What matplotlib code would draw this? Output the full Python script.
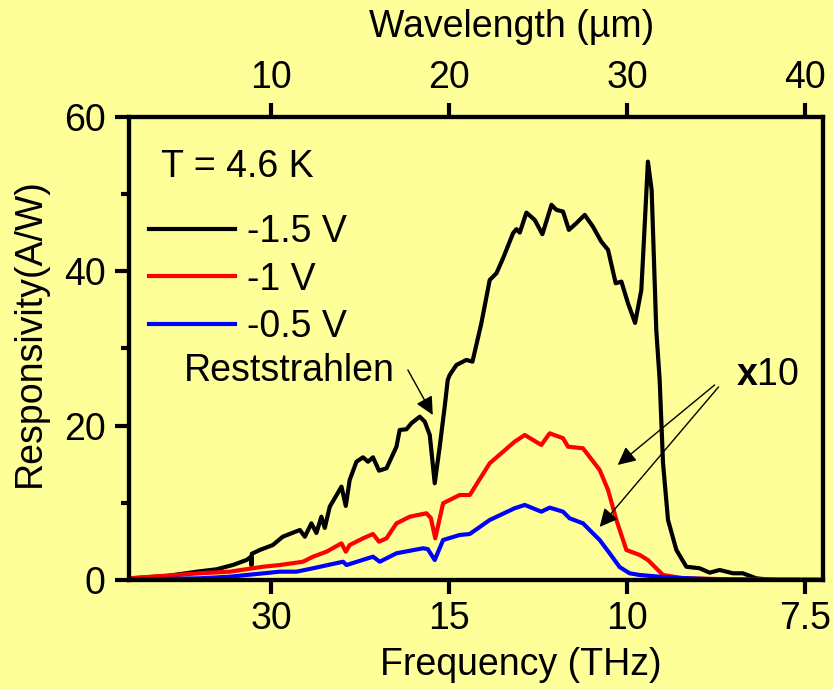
import matplotlib
matplotlib.use("Agg")
import matplotlib.pyplot as plt
from matplotlib.ticker import MultipleLocator

plt.rcParams['font.family'] = ['Liberation Sans', 'DejaVu Sans']
plt.rcParams['mathtext.fontset'] = 'custom'
plt.rcParams['mathtext.rm'] = 'Liberation Sans'
plt.rcParams['mathtext.bf'] = 'Liberation Sans:bold'

# wavelength (um) and responsivity (A/W)
wl_black = [2.0, 4.11, 5.98, 6.92, 7.83, 8.60, 8.86, 8.88, 8.90, 9.35, 10.08, 10.64,
            11.60, 11.88, 12.25, 12.53, 12.81, 13.00, 13.28, 13.94, 14.18, 14.40,
            14.78, 15.15, 15.43, 15.71, 16.05, 16.47, 17.03, 17.21, 17.59, 17.87,
            18.34, 18.62, 18.90, 19.18, 19.46, 19.74, 19.91, 20.02, 20.40, 20.96,
            21.30, 21.80, 22.27, 22.65, 23.02, 23.58, 23.77, 23.96, 24.33, 24.80,
            25.23, 25.74, 26.02, 26.39, 26.72, 27.14, 27.61, 28.07, 28.54, 28.92,
            29.35, 29.67, 30.04, 30.44, 30.79, 30.98, 31.16, 31.37, 31.63, 31.82,
            32.01, 32.29, 32.76, 33.32, 34.07, 34.63, 35.19, 35.94, 36.50, 37.25,
            38.19, 41.0]
r_black = [0.2, 0.52, 1.13, 1.39, 1.94, 2.59, 3.0, 1.9, 3.4, 3.89, 4.53, 5.61,
           6.48, 5.61, 7.34, 6.09, 8.20, 6.74, 9.49, 12.09, 9.59, 12.95,
           15.32, 15.89, 15.32, 15.89, 14.16, 14.47, 17.27, 19.43, 19.52, 20.30,
           21.15, 20.51, 18.78, 12.53, 17.27, 22.45, 25.91, 26.55, 27.85, 28.50,
           28.28, 33.25, 38.86, 39.73, 41.67, 44.91, 45.43, 44.99, 47.58, 46.63,
           44.78, 48.58, 47.93, 47.71, 45.34, 46.21, 47.28, 45.76, 43.82, 42.75,
           38.43, 38.64, 35.84, 33.29, 37.56, 45.98, 54.18, 50.5, 32.38, 25.91,
           15.12, 7.77, 3.89, 1.72, 1.52, 0.95, 1.30, 0.87, 0.87, 0.22,
           0.0, 0.0]

wl_red = [2.0, 5.98, 7.66, 9.53, 10.47, 11.78, 12.34, 13.10, 13.94, 14.18, 14.40,
          15.15, 15.71, 16.05, 16.47, 17.03, 17.78, 18.71, 18.96, 19.21, 19.65,
          20.58, 21.15, 22.27, 23.67, 24.24, 25.17, 25.64, 26.39, 26.67, 27.51,
          28.45, 28.92, 29.39, 29.95, 30.70, 31.16, 32.01, 33.13, 35.92, 41.0]
r_red = [0.22, 0.87, 1.08, 1.72, 1.94, 2.37, 3.02, 3.67, 4.75, 3.67, 4.53,
         5.40, 5.96, 4.96, 5.40, 7.34, 8.20, 8.64, 8.03, 5.40, 9.94,
         11.01, 11.01, 15.12, 17.91, 18.78, 17.49, 19.00, 18.36, 17.27, 17.06,
         14.25, 11.66, 7.77, 3.89, 3.24, 2.59, 0.65, 0.22, 0.09, 0.05]

wl_blue = [2.0, 5.98, 7.66, 10.47, 11.41, 12.34, 14.03, 14.22, 15.71, 16.09, 17.03,
           18.52, 18.79, 19.18, 19.65, 20.58, 21.15, 22.27, 23.67, 24.24, 25.17,
           25.64, 26.39, 26.76, 27.51, 28.45, 29.01, 29.57, 30.13, 30.70, 32.20,
           35.19, 41.0]
r_blue = [0.05, 0.22, 0.43, 1.08, 1.08, 1.52, 2.37, 1.94, 3.02, 2.37, 3.46,
          4.11, 4.0, 2.59, 5.18, 5.83, 5.96, 7.77, 9.29, 9.72, 8.85,
          9.37, 8.85, 7.99, 7.34, 5.18, 3.46, 1.68, 0.87, 0.65, 0.35,
          0.06, 0.0]

labels = ['-1.5 V', '-1 V', '-0.5 V']
colors = ['black', '#ff0000', '#0000ff']
wl_ticks = [10, 20, 30, 40]
freq_labels = ['30', '15', '10', '7.5']

bg = '#ffff99'
fs = 27

fig = plt.figure(figsize=(8.33, 6.9), dpi=100, facecolor=bg)
ax = fig.add_axes([0.1549, 0.1594, 0.8331, 0.6715])
ax.set_facecolor(bg)

for wl, r, lab, c in zip([wl_black, wl_red, wl_blue], [r_black, r_red, r_blue], labels, colors):
    ax.plot(wl, r, color=c, lw=3, label=lab, solid_joinstyle='round')

ax.set_xlim(2, 41)
ax.set_ylim(0, 60)
ax.set_xticks(wl_ticks)
ax.set_xticklabels(freq_labels)
ax.set_yticks([0, 20, 40, 60])
ax.yaxis.set_minor_locator(MultipleLocator(10))
ax.tick_params(axis='both', which='major', direction='out', length=10, width=3,
               labelsize=fs, pad=5)
ax.tick_params(axis='y', which='minor', direction='out', length=6, width=3)
ax.tick_params(axis='y', pad=7)
for s in ax.spines.values():
    s.set_linewidth(3)

ax.set_xlabel('Frequency (THz)', fontsize=fs, va='center')
ax.xaxis.set_label_coords(0.565, -0.183)
ax.set_ylabel('Responsivity(A/W)', fontsize=fs, va='center', ha='center')
ax.yaxis.set_label_coords(-0.143, 0.533)

top = ax.twiny()
top.set_xlim(ax.get_xlim())
top.set_xticks(wl_ticks)
top.tick_params(axis='x', direction='out', length=10, width=3, labelsize=fs, pad=5)
top.set_xlabel('Wavelength (\u00b5m)', fontsize=fs, va='center')
top.xaxis.set_label_coords(0.552, 1.194)
for s in top.spines.values():
    s.set_linewidth(3)

ax.text(3.79, 53.5, 'T = 4.6 K', fontsize=fs, va='center', ha='left')
ax.legend(loc='upper left', bbox_to_anchor=(0.0288, 0.79), frameon=False,
          fontsize=fs, handlelength=2.3, handletextpad=0.3, labelspacing=0.31,
          borderpad=0, borderaxespad=0)

ax.text(10.99, 27.07, 'Reststrahlen', fontsize=fs, ha='center', va='center')
arrow = dict(arrowstyle='-|>,head_length=0.55,head_width=0.27', color='black',
             lw=1, mutation_scale=20, shrinkA=0, shrinkB=0)
ax.annotate('', xy=(19.07, 21.37), xytext=(17.67, 27.2), arrowprops=arrow)

ax.text(37.89, 26.55, r'$\mathbf{x}$10', fontsize=fs, ha='center', va='center')
ax.annotate('', xy=(29.46, 14.90), xytext=(34.91, 25.26), arrowprops=arrow)
ax.annotate('', xy=(28.45, 6.87), xytext=(35.13, 25.0), arrowprops=arrow)

fig.savefig('out.png', dpi=100, facecolor=bg)
